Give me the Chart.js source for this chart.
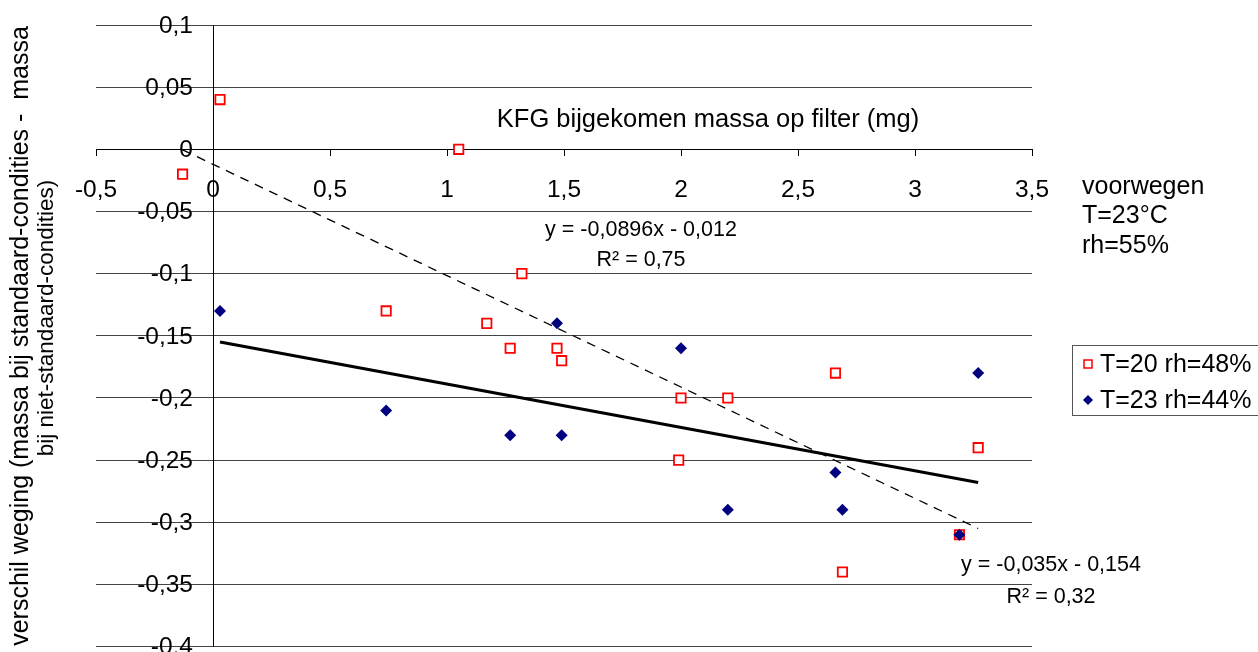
<!DOCTYPE html>
<html>
<head>
<meta charset="utf-8">
<script src="https://cdn.jsdelivr.net/npm/chart.js@4/dist/chart.umd.min.js"></script>
<style>
  html, body { margin: 0; padding: 0; background: #fff; overflow: hidden; }
  #wrap { width: 1258px; height: 655px; }
</style>
</head>
<body>
<div id="wrap"><canvas id="chart"></canvas></div>
<script>
// T=20 rh=48% (open red squares)
const redX = [-0.13, 0.03, 1.05, 0.74, 1.17, 1.27, 1.32, 1.47, 1.49, 2.0, 2.2, 1.99, 2.66, 2.69, 3.19, 3.27];
const redY = [-0.02, 0.04, 0.0, -0.13, -0.14, -0.16, -0.1, -0.16, -0.17, -0.2, -0.2, -0.25, -0.18, -0.34, -0.31, -0.24];

// T=23 rh=44% (navy diamonds)
const blueX = [0.03, 0.74, 1.27, 1.47, 1.49, 2.0, 2.2, 2.66, 2.69, 3.19, 3.27];
const blueY = [-0.13, -0.21, -0.23, -0.14, -0.23, -0.16, -0.29, -0.26, -0.29, -0.31, -0.18];

// trendline end points
const redTrendX = [-0.13, 3.27];
const redTrendY = [-0.0004, -0.305];
const blueTrendX = [0.03, 3.27];
const blueTrendY = [-0.155, -0.268];

const seriesNames = ["T=20 rh=48%", "T=23 rh=44%"];
const xTitle = "KFG bijgekomen massa op filter (mg)";
const yTitle = ["verschil weging (massa bij standaard-condities -  massa", "bij niet-standaard-condities)"];
const note = ["voorwegen", "T=23°C", "rh=55%"];
const redEq = ["y = -0,0896x - 0,012", "R² = 0,75"];
const blueEq = ["y = -0,035x - 0,154", "R² = 0,32"];

const FONT = "'Liberation Sans', Arial, sans-serif";
const RED = "#ff0000";
const NAVY = "#000080";

function pts(xs, ys) {
    return xs.map((x, i) => ({ x: x, y: ys[i] }));
}

function fmt(v) {
    return String(Math.round(v * 100) / 100).replace(".", ",");
}

const textPlugin = {
    id: "texts",
    afterDraw(chart) {
        const ctx = chart.ctx;
        const ys = chart.scales.y;
        const x0 = chart.scales.x.getPixelForValue(0);
        ctx.save();
        ctx.fillStyle = "#000";
        ctx.textBaseline = "middle";

        // y tick labels, kept clear of the axis (Chart.js puts them flush on a value-positioned axis)
        ctx.font = "24.5px " + FONT;
        ctx.textAlign = "right";
        ys.ticks.forEach(t => {
            ctx.fillText(fmt(t.value), x0 - 20, ys.getPixelForValue(t.value) + 1);
        });

        // x title sits above the axis
        ctx.font = "25.5px " + FONT;
        ctx.textAlign = "center";
        ctx.fillText(xTitle, 708, 120);

        // note at the right of the x axis
        ctx.font = "25px " + FONT;
        ctx.textAlign = "left";
        note.forEach((t, i) => ctx.fillText(t, 1082, 187 + i * 29.5));

        // trendline labels
        ctx.font = "21.5px " + FONT;
        ctx.textAlign = "center";
        ctx.fillText(redEq[0], 641, 230);
        ctx.fillText(redEq[1], 641, 260);
        ctx.fillText(blueEq[0], 1051, 565);
        ctx.fillText(blueEq[1], 1051, 597);

        // rotated y title, two lines
        ctx.font = "25px " + FONT;
        ctx.save();
        ctx.translate(21, 336);
        ctx.rotate(-Math.PI / 2);
        ctx.fillText(yTitle[0], 0, 0);
        ctx.restore();
        ctx.font = "22.5px " + FONT;
        ctx.save();
        ctx.translate(47, 318);
        ctx.rotate(-Math.PI / 2);
        ctx.fillText(yTitle[1], 0, 0);
        ctx.restore();

        // legend box
        ctx.strokeStyle = "#555";
        ctx.lineWidth = 1;
        ctx.strokeRect(1072.5, 345.5, 200, 70);
        ctx.strokeStyle = RED;
        ctx.lineWidth = 1.5;
        ctx.fillStyle = "#fff";
        ctx.fillRect(1084, 360, 8, 8);
        ctx.strokeRect(1084, 360, 8, 8);
        ctx.fillStyle = NAVY;
        ctx.beginPath();
        ctx.moveTo(1088, 395);
        ctx.lineTo(1093, 400);
        ctx.lineTo(1088, 405);
        ctx.lineTo(1083, 400);
        ctx.closePath();
        ctx.fill();
        ctx.fillStyle = "#000";
        ctx.font = "25px " + FONT;
        ctx.textAlign = "left";
        ctx.fillText(seriesNames[0], 1100, 365);
        ctx.fillText(seriesNames[1], 1100, 401);
        ctx.restore();
    }
};

const chart = new Chart(document.getElementById("chart"), {
    type: "scatter",
    data: {
        datasets: [{
            label: seriesNames[0],
            data: pts(redX, redY),
            pointStyle: "rect",
            pointRadius: 6.6,
            pointBorderWidth: 1.8,
            borderColor: RED,
            backgroundColor: "#fff",
            order: 1
        }, {
            label: seriesNames[1],
            data: pts(blueX, blueY),
            pointStyle: "rectRot",
            pointRadius: 6,
            pointBorderWidth: 0,
            borderColor: NAVY,
            backgroundColor: NAVY,
            order: 0
        }, {
            type: "line",
            label: "trend 1",
            data: pts(redTrendX, redTrendY),
            borderColor: "#000",
            borderWidth: 1.3,
            borderDash: [9, 7],
            pointRadius: 0,
            fill: false,
            order: 3
        }, {
            type: "line",
            label: "trend 2",
            data: pts(blueTrendX, blueTrendY),
            borderColor: "#000",
            borderWidth: 3.2,
            pointRadius: 0,
            fill: false,
            order: 2
        }]
    },
    options: {
        responsive: true,
        maintainAspectRatio: false,
        animation: false,
        layout: { padding: { left: 96, right: 226, top: 25, bottom: 6 } },
        plugins: {
            legend: { display: false },
            tooltip: { enabled: false }
        },
        scales: {
            x: {
                type: "linear",
                min: -0.5,
                max: 3.5,
                position: { y: 0 },
                border: { color: "#000", width: 1 },
                grid: { drawOnChartArea: false, drawTicks: true, tickLength: 6, color: "#000" },
                ticks: {
                    stepSize: 0.5,
                    padding: 20,
                    color: "#000",
                    font: { family: FONT, size: 24.5 },
                    maxRotation: 0,
                    callback: v => fmt(v)
                }
            },
            y: {
                type: "linear",
                min: -0.4,
                max: 0.1,
                position: { x: 0 },
                border: { color: "#000", width: 1 },
                grid: { color: "#444", lineWidth: 1, drawTicks: true, tickLength: 7 },
                ticks: {
                    stepSize: 0.05,
                    display: false,
                    font: { family: FONT, size: 24.5 }
                }
            }
        }
    },
    plugins: [textPlugin]
});
</script>
</body>
</html>
